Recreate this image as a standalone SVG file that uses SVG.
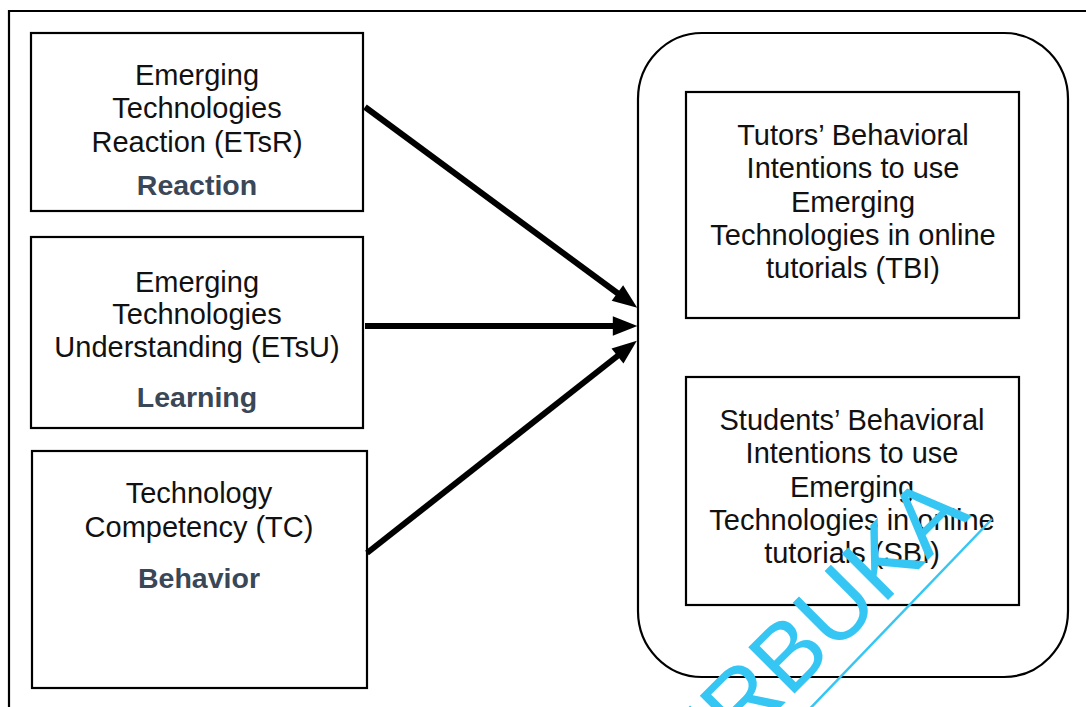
<svg xmlns="http://www.w3.org/2000/svg" width="1086" height="707" viewBox="0 0 1086 707">
  <style>
    .box { fill: none; stroke: #000; stroke-width: 2.2; }
    .t { font-family: "Liberation Sans", Arial, sans-serif; font-size: 29px; fill: #111; text-anchor: middle; }
    .lbl { font-family: "Liberation Sans", Arial, sans-serif; font-size: 28.5px; font-weight: bold; fill: #3a4757; text-anchor: middle; }
    .conn { stroke: #000; stroke-width: 6; fill: none; marker-end: url(#ah); }
    .wm { font-family: "Liberation Sans", Arial, sans-serif; font-size: 95px; fill: #35c6f4; }
  </style>
  <defs>
    <marker id="ah" markerUnits="userSpaceOnUse" markerWidth="30" markerHeight="30" viewBox="-4 -12 28 24" refX="0" refY="0" orient="auto">
      <path d="M-3,-9 L20,0 L-3,9 z" fill="#000"/>
    </marker>
  </defs>
  <rect x="0" y="0" width="1086" height="707" fill="#fff"/>
  <!-- outer frame (top and left edges visible) -->
  <path d="M9,707 L9,11 L1086,11" fill="none" stroke="#000" stroke-width="2.2"/>

  <g id="etsr">
    <rect class="box" x="31" y="33" width="332" height="178"/>
    <text class="t" x="197" y="85">Emerging</text>
    <text class="t" x="197" y="118">Technologies</text>
    <text class="t" x="197" y="152">Reaction (ETsR)</text>
    <text class="lbl" x="197" y="195">Reaction</text>
  </g>
  <g id="etsu">
    <rect class="box" x="31" y="237" width="332" height="191"/>
    <text class="t" x="197" y="292">Emerging</text>
    <text class="t" x="197" y="324">Technologies</text>
    <text class="t" x="197" y="357">Understanding (ETsU)</text>
    <text class="lbl" x="197" y="407">Learning</text>
  </g>
  <g id="tc">
    <rect class="box" x="32" y="451" width="335" height="237"/>
    <text class="t" x="199" y="503">Technology</text>
    <text class="t" x="199" y="537">Competency (TC)</text>
    <text class="lbl" x="199" y="588">Behavior</text>
  </g>

  <g id="intentions">
    <rect class="box" x="638" y="33" width="430" height="644" rx="64" ry="66"/>
  </g>
  <g id="tbi">
    <rect class="box" x="686" y="92" width="333" height="226"/>
    <text class="t" x="853" y="145">Tutors’ Behavioral</text>
    <text class="t" x="853" y="178">Intentions to use</text>
    <text class="t" x="853" y="212">Emerging</text>
    <text class="t" x="853" y="245">Technologies in online</text>
    <text class="t" x="853" y="278">tutorials (TBI)</text>
  </g>
  <g id="sbi">
    <rect class="box" x="686" y="377" width="333" height="228"/>
    <text class="t" x="852" y="430">Students’ Behavioral</text>
    <text class="t" x="852" y="463">Intentions to use</text>
    <text class="t" x="852" y="497">Emerging</text>
    <text class="t" x="852" y="530">Technologies in online</text>
    <text class="t" x="852" y="563">tutorials (SBI)</text>
  </g>

  <g id="connectors">
    <line class="conn" x1="365" y1="107" x2="620" y2="295"/>
    <line class="conn" x1="365" y1="326" x2="616" y2="326"/>
    <line class="conn" x1="367" y1="553" x2="620" y2="354"/>
  </g>

  <g id="watermark">
    <text class="wm" x="972" y="516" text-anchor="end" transform="rotate(-45 972 516)">TERBUKA</text>
    <line x1="800" y1="719" x2="992" y2="519" stroke="#35c6f4" stroke-width="2.5"/>
  </g>
</svg>
